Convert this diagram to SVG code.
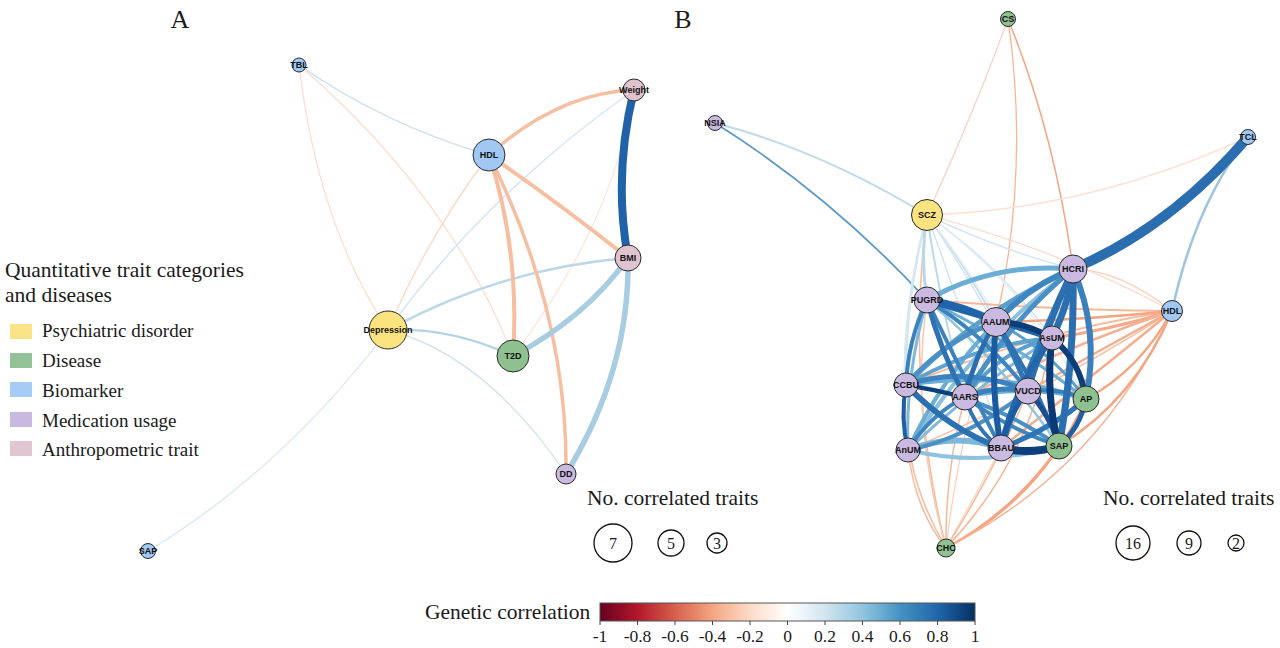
<svg xmlns="http://www.w3.org/2000/svg" width="1280" height="648" viewBox="0 0 1280 648">
<defs>
<linearGradient id="rdbu" x1="0" y1="0" x2="1" y2="0">
<stop offset="0" stop-color="#67001f"/>
<stop offset="0.1" stop-color="#b2182b"/>
<stop offset="0.2" stop-color="#d6604d"/>
<stop offset="0.3" stop-color="#f4a582"/>
<stop offset="0.4" stop-color="#fddbc7"/>
<stop offset="0.5" stop-color="#ffffff"/>
<stop offset="0.6" stop-color="#d1e5f0"/>
<stop offset="0.7" stop-color="#92c5de"/>
<stop offset="0.8" stop-color="#4393c3"/>
<stop offset="0.9" stop-color="#2166ac"/>
<stop offset="1" stop-color="#053061"/>
</linearGradient>
<style>
.e{fill:none;stroke-linecap:round}
.n circle{stroke:#2a2a2a;stroke-width:1}
.n text{font-family:"Liberation Sans",Arial,sans-serif;font-weight:bold;font-size:9px;fill:#111;text-anchor:middle}
.psy{fill:#fbe47f}
.dis{fill:#8fc190}
.bio{fill:#a0c8f3}
.med{fill:#cab9e0}
.ant{fill:#dfc3ce}
.serif{font-family:"Liberation Serif","Times New Roman",serif;fill:#1a1a1a}
.lc{fill:none;stroke:#111;stroke-width:1.3}
.tick{stroke:#444;stroke-width:1}
</style>
</defs>
<rect width="1280" height="648" fill="#ffffff"/>

<text class="serif" x="180" y="28" font-size="26" text-anchor="middle">A</text>
<text class="serif" x="683" y="28" font-size="26" text-anchor="middle">B</text>

<!-- Panel A connectors -->
<g id="edges-A">
<path class="e" d="M299,65 Q385,125 489,155" stroke="#c9e1ee" stroke-width="1.5"/>
<path class="e" d="M299,65 Q318,225 388,330" stroke="#fbdccb" stroke-width="1.2"/>
<path class="e" d="M299,65 Q450,195 513,356" stroke="#fbdccb" stroke-width="1.2"/>
<path class="e" d="M634,90 Q485,195 388,330" stroke="#d3e6f1" stroke-width="1.5"/>
<path class="e" d="M634,90 Q614,223 513,356" stroke="#fde5d8" stroke-width="1.2"/>
<path class="e" d="M489,155 Q428,236 388,330" stroke="#fbd8c5" stroke-width="1.3"/>
<path class="e" d="M388,330 Q485,355 566,474" stroke="#cfe3ef" stroke-width="1.3"/>
<path class="e" d="M388,330 Q282,470 148,551" stroke="#d3e6f1" stroke-width="1.2"/>
<path class="e" d="M388,330 Q450,327 513,356" stroke="#b3d3e6" stroke-width="2.2"/>
<path class="e" d="M628,258 Q502,268 388,330" stroke="#bcd8e8" stroke-width="2.5"/>
<path class="e" d="M634,90 Q558,93 489,155" stroke="#f7bfa2" stroke-width="3.5"/>
<path class="e" d="M489,155 Q520,250 513,356" stroke="#f7bd9f" stroke-width="4"/>
<path class="e" d="M489,155 Q568,314 566,474" stroke="#f7bfa2" stroke-width="3.5"/>
<path class="e" d="M489,155 Q555,200 628,258" stroke="#f7bfa2" stroke-width="4"/>
<path class="e" d="M628,258 Q585,318 513,356" stroke="#a8cde2" stroke-width="5.5"/>
<path class="e" d="M628,258 Q630,370 566,474" stroke="#a8cde2" stroke-width="5.5"/>
<path class="e" d="M634,90 Q613,175 628,258" stroke="#2062a8" stroke-width="8"/>
</g>

<!-- Panel A nodes -->
<g id="A-TBL" class="n"><circle class="bio" cx="299" cy="65" r="7"/><text x="299" y="65" dy="0.35em">TBL</text></g>
<g id="A-Weight" class="n"><circle class="ant" cx="634" cy="90" r="11"/><text x="634" y="90" dy="0.35em">Weight</text></g>
<g id="A-HDL" class="n"><circle class="bio" cx="489" cy="155" r="16"/><text x="489" y="155" dy="0.35em">HDL</text></g>
<g id="A-BMI" class="n"><circle class="ant" cx="628" cy="258" r="13"/><text x="628" y="258" dy="0.35em">BMI</text></g>
<g id="A-Depression" class="n"><circle class="psy" cx="388" cy="330" r="19"/><text x="388" y="330" dy="0.35em">Depression</text></g>
<g id="A-T2D" class="n"><circle class="dis" cx="513" cy="356" r="16"/><text x="513" y="356" dy="0.35em">T2D</text></g>
<g id="A-DD" class="n"><circle class="med" cx="566" cy="474" r="10"/><text x="566" y="474" dy="0.35em">DD</text></g>
<g id="A-SAP" class="n"><circle class="bio" cx="148" cy="551" r="7.5"/><text x="148" y="551" dy="0.35em">SAP</text></g>

<!-- Panel B connectors -->
<g id="edges-B">
<path class="e" d="M715,123 Q820,150 927,215" stroke="#bfdaea" stroke-width="2"/>
<path class="e" d="M715,123 Q830,195 927,300" stroke="#5b9ac6" stroke-width="1.8"/>
<path class="e" d="M1008,19 Q975,110 927,215" stroke="#fbd0ba" stroke-width="1.2"/>
<path class="e" d="M1008,19 Q1030,170 996,322" stroke="#f7b596" stroke-width="1.3"/>
<path class="e" d="M1008,19 Q1055,135 1073,269" stroke="#f4a582" stroke-width="1.5"/>
<path class="e" d="M1248,137 Q1090,210 927,215" stroke="#fde2d2" stroke-width="1.5"/>
<path class="e" d="M1248,137 Q1195,205 1172,311" stroke="#9cc6df" stroke-width="2.5"/>
<path class="e" d="M927,215 Q1000,250 1073,269" stroke="#d4e7f1" stroke-width="1.5"/>
<path class="e" d="M927,215 Q1060,250 1172,311" stroke="#fbd8c6" stroke-width="1.2"/>
<path class="e" d="M927,215 Q905,380 946,548" stroke="#f7b99a" stroke-width="1.5"/>
<path class="e" d="M927,215 Q905,300 906,385" stroke="#cfe4f0" stroke-width="2"/>
<path class="e" d="M927,215 Q895,330 908,450" stroke="#d6e8f2" stroke-width="2"/>
<path class="e" d="M927,215 Q965,265 996,322" stroke="#c8e0ee" stroke-width="2"/>
<path class="e" d="M927,215 Q940,305 965,397" stroke="#bcd8ea" stroke-width="2"/>
<path class="e" d="M927,215 Q970,330 1001,448" stroke="#d2e6f1" stroke-width="1.5"/>
<path class="e" d="M927,215 Q985,300 1028,391" stroke="#d2e6f1" stroke-width="1.5"/>
<path class="e" d="M927,215 Q1000,265 1052,338" stroke="#d2e6f1" stroke-width="1.5"/>
<path class="e" d="M927,215 Q1010,320 1059,446" stroke="#e6f0f7" stroke-width="1.5"/>
<path class="e" d="M927,215 Q1030,290 1086,399" stroke="#e6f0f7" stroke-width="1.5"/>
<path class="e" d="M927,215 Q920,258 927,300" stroke="#b9d7e9" stroke-width="3"/>
<path class="e" d="M946,548 Q915,510 908,450" stroke="#f7b99a" stroke-width="1.5"/>
<path class="e" d="M946,548 Q900,470 906,385" stroke="#f7bc9e" stroke-width="1.5"/>
<path class="e" d="M946,548 Q910,420 927,300" stroke="#f9c8ad" stroke-width="1.5"/>
<path class="e" d="M946,548 Q945,470 965,397" stroke="#f7b99a" stroke-width="1.5"/>
<path class="e" d="M946,548 Q960,430 996,322" stroke="#fad0ba" stroke-width="1.2"/>
<path class="e" d="M946,548 Q975,495 1001,448" stroke="#fbd5c1" stroke-width="1.2"/>
<path class="e" d="M946,548 Q995,470 1028,391" stroke="#f7b99a" stroke-width="1.5"/>
<path class="e" d="M946,548 Q1030,460 1052,338" stroke="#f6b394" stroke-width="1.5"/>
<path class="e" d="M946,548 Q1015,510 1059,446" stroke="#f4a582" stroke-width="2"/>
<path class="e" d="M946,548 Q1040,500 1086,399" stroke="#f4a582" stroke-width="2"/>
<path class="e" d="M946,548 Q1100,470 1172,311" stroke="#f6b394" stroke-width="1.5"/>
<path class="e" d="M1172,311 Q1120,270 1073,269" stroke="#fbd3bf" stroke-width="1.5"/>
<path class="e" d="M1172,311 Q1050,310 927,300" stroke="#f7b799" stroke-width="2"/>
<path class="e" d="M1172,311 Q1040,330 906,385" stroke="#f7bc9e" stroke-width="2"/>
<path class="e" d="M1172,311 Q1050,390 908,450" stroke="#f8c4a8" stroke-width="1.5"/>
<path class="e" d="M1172,311 Q1085,320 996,322" stroke="#f4a582" stroke-width="2.5"/>
<path class="e" d="M1172,311 Q1110,330 1052,338" stroke="#f5ab8a" stroke-width="3"/>
<path class="e" d="M1172,311 Q1070,345 965,397" stroke="#f6b293" stroke-width="2.5"/>
<path class="e" d="M1172,311 Q1100,350 1028,391" stroke="#f5ad8d" stroke-width="2.5"/>
<path class="e" d="M1172,311 Q1100,370 1001,448" stroke="#f5ad8d" stroke-width="2.5"/>
<path class="e" d="M1172,311 Q1135,400 1059,446" stroke="#f4a582" stroke-width="2.5"/>
<path class="e" d="M1172,311 Q1140,370 1086,399" stroke="#f4a582" stroke-width="2.5"/>
<path class="e" d="M927,300 Q1000,360 1059,446" stroke="#92c5de" stroke-width="2.5"/>
<path class="e" d="M1073,269 Q975,340 908,450" stroke="#8ac0dd" stroke-width="4"/>
<path class="e" d="M908,450 Q985,468 1059,446" stroke="#8fc2de" stroke-width="4"/>
<path class="e" d="M908,450 Q955,432 1001,448" stroke="#7db8da" stroke-width="6"/>
<path class="e" d="M927,300 Q905,375 908,450" stroke="#7db8da" stroke-width="3"/>
<path class="e" d="M1052,338 Q970,390 908,450" stroke="#7fb8da" stroke-width="3"/>
<path class="e" d="M927,300 Q995,262 1073,269" stroke="#6aaed6" stroke-width="5"/>
<path class="e" d="M927,300 Q1010,340 1086,399" stroke="#6baed6" stroke-width="3"/>
<path class="e" d="M996,322 Q940,380 908,450" stroke="#6aaed6" stroke-width="4"/>
<path class="e" d="M906,385 Q1000,370 1086,399" stroke="#6aaed6" stroke-width="4"/>
<path class="e" d="M965,397 Q1030,385 1086,399" stroke="#6aaed6" stroke-width="3"/>
<path class="e" d="M1052,338 Q975,345 906,385" stroke="#5fa3cf" stroke-width="4"/>
<path class="e" d="M1052,338 Q1000,350 965,397" stroke="#5a9fcd" stroke-width="4"/>
<path class="e" d="M996,322 Q1050,350 1086,399" stroke="#5a9fcd" stroke-width="3"/>
<path class="e" d="M1073,269 Q980,310 906,385" stroke="#5b9fcd" stroke-width="5"/>
<path class="e" d="M996,322 Q945,340 906,385" stroke="#4b91c6" stroke-width="5"/>
<path class="e" d="M1073,269 Q1010,320 965,397" stroke="#4a90c5" stroke-width="5"/>
<path class="e" d="M906,385 Q985,395 1059,446" stroke="#4a90c5" stroke-width="4"/>
<path class="e" d="M1028,391 Q965,440 908,450" stroke="#4a90c5" stroke-width="4"/>
<path class="e" d="M996,322 Q1030,285 1073,269" stroke="#3f86c0" stroke-width="6"/>
<path class="e" d="M965,397 Q930,415 908,450" stroke="#3f86c0" stroke-width="4"/>
<path class="e" d="M965,397 Q1010,430 1059,446" stroke="#3f86c0" stroke-width="4"/>
<path class="e" d="M927,300 Q908,340 906,385" stroke="#3a80bd" stroke-width="4"/>
<path class="e" d="M927,300 Q985,335 1028,391" stroke="#3d84be" stroke-width="4"/>
<path class="e" d="M927,300 Q960,370 1001,448" stroke="#3b82be" stroke-width="4"/>
<path class="e" d="M906,385 Q965,365 1028,391" stroke="#3b82be" stroke-width="5"/>
<path class="e" d="M965,397 Q995,385 1028,391" stroke="#3a80bd" stroke-width="5"/>
<path class="e" d="M1028,391 Q1060,388 1086,399" stroke="#3a80bd" stroke-width="4"/>
<path class="e" d="M1073,269 Q1100,330 1086,399" stroke="#3a80bd" stroke-width="6"/>
<path class="e" d="M1073,269 Q1030,360 1001,448" stroke="#3079b8" stroke-width="6"/>
<path class="e" d="M996,322 Q1015,355 1028,391" stroke="#2f74b5" stroke-width="5"/>
<path class="e" d="M965,397 Q975,430 1001,448" stroke="#2f74b5" stroke-width="4"/>
<path class="e" d="M1001,448 Q1050,430 1086,399" stroke="#2f74b5" stroke-width="5"/>
<path class="e" d="M927,300 Q940,350 965,397" stroke="#2e72b3" stroke-width="5"/>
<path class="e" d="M1052,338 Q1035,360 1028,391" stroke="#2e72b3" stroke-width="5"/>
<path class="e" d="M996,322 Q1035,380 1059,446" stroke="#2d71b2" stroke-width="4"/>
<path class="e" d="M906,385 Q950,430 1001,448" stroke="#2c70b1" stroke-width="6"/>
<path class="e" d="M996,322 Q975,355 965,397" stroke="#2a6db0" stroke-width="5"/>
<path class="e" d="M1073,269 Q1045,330 1028,391" stroke="#2b6fb1" stroke-width="6"/>
<path class="e" d="M1073,269 Q1075,360 1059,446" stroke="#2b6fb1" stroke-width="7"/>
<path class="e" d="M1052,338 Q1070,300 1073,269" stroke="#2b6fb1" stroke-width="7"/>
<path class="e" d="M1052,338 Q1015,385 1001,448" stroke="#2566aa" stroke-width="6"/>
<path class="e" d="M927,300 Q962,305 996,322" stroke="#2166ac" stroke-width="7"/>
<path class="e" d="M927,300 Q990,318 1052,338" stroke="#1f63a8" stroke-width="6"/>
<path class="e" d="M906,385 Q900,418 908,450" stroke="#1f5fa5" stroke-width="4"/>
<path class="e" d="M1059,446 Q1080,428 1086,399" stroke="#1f5fa5" stroke-width="5"/>
<path class="e" d="M1028,391 Q1008,415 1001,448" stroke="#1c5ca2" stroke-width="5"/>
<path class="e" d="M996,322 Q990,385 1001,448" stroke="#1a5aa0" stroke-width="6"/>
<path class="e" d="M1028,391 Q1050,415 1059,446" stroke="#174f93" stroke-width="5"/>
<path class="e" d="M906,385 Q935,390 965,397" stroke="#0d3e7a" stroke-width="4"/>
<path class="e" d="M996,322 Q1025,322 1052,338" stroke="#0b3c78" stroke-width="6"/>
<path class="e" d="M1052,338 Q1080,360 1086,399" stroke="#0c3e7b" stroke-width="6"/>
<path class="e" d="M1052,338 Q1045,395 1059,446" stroke="#0a3a76" stroke-width="7"/>
<path class="e" d="M1001,448 Q1030,455 1059,446" stroke="#0e3f7b" stroke-width="8"/>
<path class="e" d="M1248,137 Q1170,228 1073,269" stroke="#2a6eb0" stroke-width="10"/>
</g>

<!-- Panel B nodes -->
<g id="B-CS" class="n"><circle class="dis" cx="1008" cy="19" r="7.5"/><text x="1008" y="19" dy="0.35em">CS</text></g>
<g id="B-NSIA" class="n"><circle class="med" cx="715" cy="123" r="7.5"/><text x="715" y="123" dy="0.35em">NSIA</text></g>
<g id="B-TCL" class="n"><circle class="bio" cx="1248" cy="137" r="7.5"/><text x="1248" y="137" dy="0.35em">TCL</text></g>
<g id="B-SCZ" class="n"><circle class="psy" cx="927" cy="215" r="15.5"/><text x="927" y="215" dy="0.35em" font-size="9.5">SCZ</text></g>
<g id="B-HCRI" class="n"><circle class="med" cx="1073" cy="269" r="14"/><text x="1073" y="269" dy="0.35em" font-size="9.5">HCRI</text></g>
<g id="B-PUGRD" class="n"><circle class="med" cx="927" cy="300" r="13"/><text x="927" y="300" dy="0.35em" font-size="9.5">PUGRD</text></g>
<g id="B-HDL" class="n"><circle class="bio" cx="1172" cy="311" r="10.5"/><text x="1172" y="311" dy="0.35em">HDL</text></g>
<g id="B-AAUM" class="n"><circle class="med" cx="996" cy="322" r="14.5"/><text x="996" y="322" dy="0.35em" font-size="9.5">AAUM</text></g>
<g id="B-AsUM" class="n"><circle class="med" cx="1052" cy="338" r="12"/><text x="1052" y="338" dy="0.35em" font-size="9.5">AsUM</text></g>
<g id="B-CCBU" class="n"><circle class="med" cx="906" cy="385" r="12"/><text x="906" y="385" dy="0.35em" font-size="9.5">CCBU</text></g>
<g id="B-AARS" class="n"><circle class="med" cx="965" cy="397" r="13"/><text x="965" y="397" dy="0.35em" font-size="9.5">AARS</text></g>
<g id="B-VUCD" class="n"><circle class="med" cx="1028" cy="391" r="13"/><text x="1028" y="391" dy="0.35em" font-size="9.5">VUCD</text></g>
<g id="B-AP" class="n"><circle class="dis" cx="1086" cy="399" r="13"/><text x="1086" y="399" dy="0.35em" font-size="9.5">AP</text></g>
<g id="B-AnUM" class="n"><circle class="med" cx="908" cy="450" r="12"/><text x="908" y="450" dy="0.35em" font-size="9.5">AnUM</text></g>
<g id="B-BBAU" class="n"><circle class="med" cx="1001" cy="448" r="13"/><text x="1001" y="448" dy="0.35em" font-size="9.5">BBAU</text></g>
<g id="B-SAP" class="n"><circle class="dis" cx="1059" cy="446" r="13"/><text x="1059" y="446" dy="0.35em" font-size="9.5">SAP</text></g>
<g id="B-CHC" class="n"><circle class="dis" cx="946" cy="548" r="9"/><text x="946" y="548" dy="0.35em">CHC</text></g>

<!-- Category legend -->
<g id="legend-categories">
<text class="serif" x="5" y="277" font-size="21.5">Quantitative trait categories</text>
<text class="serif" x="5" y="302" font-size="21.5">and diseases</text>
<rect x="10" y="324" width="22" height="15" fill="#fbe488"/>
<rect x="10" y="353" width="22" height="15" fill="#92c296"/>
<rect x="10" y="382" width="22" height="15" fill="#a6cbf5"/>
<rect x="10" y="412" width="22" height="15" fill="#c9b9e0"/>
<rect x="10" y="441" width="22" height="15" fill="#dfc6d0"/>
<text class="serif" x="42" y="337" font-size="19">Psychiatric disorder</text>
<text class="serif" x="42" y="367" font-size="19">Disease</text>
<text class="serif" x="42" y="397" font-size="19">Biomarker</text>
<text class="serif" x="42" y="427" font-size="19">Medication usage</text>
<text class="serif" x="42" y="456" font-size="19">Anthropometric trait</text>
</g>

<!-- Size legends -->
<g id="legend-size-A">
<text class="serif" x="587" y="505" font-size="21.5">No. correlated traits</text>
<circle class="lc" cx="613" cy="543" r="19"/>
<circle class="lc" cx="671" cy="543" r="13"/>
<circle class="lc" cx="717" cy="543" r="10"/>
<text class="serif" x="613" y="549" font-size="16" text-anchor="middle">7</text>
<text class="serif" x="671" y="549" font-size="16" text-anchor="middle">5</text>
<text class="serif" x="717" y="549" font-size="16" text-anchor="middle">3</text>
</g>
<g id="legend-size-B">
<text class="serif" x="1103" y="505" font-size="21.5">No. correlated traits</text>
<circle class="lc" cx="1133" cy="543" r="17"/>
<circle class="lc" cx="1189" cy="543" r="12"/>
<circle class="lc" cx="1236" cy="543" r="8"/>
<text class="serif" x="1133" y="549" font-size="16" text-anchor="middle">16</text>
<text class="serif" x="1189" y="549" font-size="16" text-anchor="middle">9</text>
<text class="serif" x="1236" y="549" font-size="16" text-anchor="middle">2</text>
</g>

<!-- Colour bar -->
<g id="colorbar">
<text class="serif" x="425" y="619" font-size="21.5">Genetic correlation</text>
<rect x="600" y="603" width="375" height="18" fill="url(#rdbu)" stroke="#555" stroke-width="1"/>
<g class="tick">
<line x1="600" y1="621" x2="600" y2="625"/><line x1="637.5" y1="621" x2="637.5" y2="625"/>
<line x1="675" y1="621" x2="675" y2="625"/><line x1="712.5" y1="621" x2="712.5" y2="625"/>
<line x1="750" y1="621" x2="750" y2="625"/><line x1="787.5" y1="621" x2="787.5" y2="625"/>
<line x1="825" y1="621" x2="825" y2="625"/><line x1="862.5" y1="621" x2="862.5" y2="625"/>
<line x1="900" y1="621" x2="900" y2="625"/><line x1="937.5" y1="621" x2="937.5" y2="625"/>
<line x1="975" y1="621" x2="975" y2="625"/>
</g>
<g class="serif" font-size="17.5" text-anchor="middle">
<text x="600" y="642">-1</text><text x="637.5" y="642">-0.8</text><text x="675" y="642">-0.6</text>
<text x="712.5" y="642">-0.4</text><text x="750" y="642">-0.2</text><text x="787.5" y="642">0</text>
<text x="825" y="642">0.2</text><text x="862.5" y="642">0.4</text><text x="900" y="642">0.6</text>
<text x="937.5" y="642">0.8</text><text x="975" y="642">1</text>
</g>
</g>
</svg>
